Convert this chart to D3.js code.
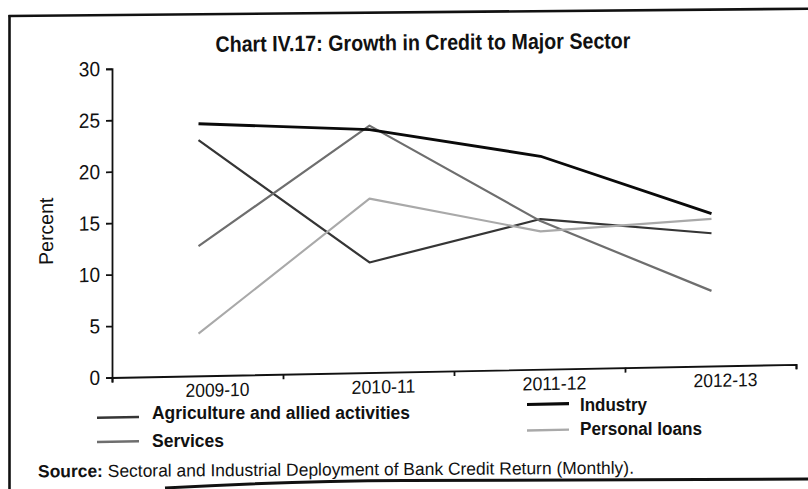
<!DOCTYPE html>
<html>
<head>
<meta charset="utf-8">
<script src="https://cdn.jsdelivr.net/npm/d3@7"></script>
<style>
  html, body { margin: 0; padding: 0; background: #fff; }
  svg { display: block; }
  text { font-family: "Liberation Sans", Arial, Helvetica, sans-serif; fill: #111; }
</style>
</head>
<body>
<svg id="chart" width="808" height="489"></svg>
<script>
// Growth in credit to major sectors, per cent
const categories = ["2009-10", "2010-11", "2011-12", "2012-13"];
const agriculture = [22.9, 10.7, 14.6, 12.9];
const industry = [24.5, 23.6, 20.7, 14.8];
const services = [12.6, 24.0, 14.4, 7.3];
const personalLoans = [4.1, 16.9, 13.4, 14.3];
const yTicks = [0, 5, 10, 15, 20, 25, 30];

const seriesNames = ["Agriculture and allied activities", "Services", "Industry", "Personal loans"];
const seriesValues = [agriculture, services, industry, personalLoans];

const colors = ["#353535", "#6e6e6e", "#0a0a0a", "#a9a9a9"];
const widths = [2.2, 2.2, 2.8, 2.1];

const svg = d3.select("#chart");
svg.append("rect").attr("width", 808).attr("height", 489).attr("fill", "#fff");

// Page frame
svg.append("line").attr("x1", 8.5).attr("y1", 16).attr("x2", 808).attr("y2", 8.7)
  .attr("stroke", "#111").attr("stroke-width", 2.6);
svg.append("line").attr("x1", 9.5).attr("y1", 15).attr("x2", 9.5).attr("y2", 489)
  .attr("stroke", "#111").attr("stroke-width", 2.6);
svg.append("path").attr("d", "M165,488 Q290,481 404,480.6 L808,479")
  .attr("fill", "none").attr("stroke", "#111").attr("stroke-width", 3);

// Title
svg.append("text")
  .attr("x", 423).attr("y", 50)
  .attr("text-anchor", "middle")
  .attr("transform", "rotate(-0.5 423 50)")
  .attr("font-size", 22).attr("font-weight", "bold")
  .attr("textLength", 415).attr("lengthAdjust", "spacingAndGlyphs")
  .text("Chart IV.17: Growth in Credit to Major Sector");

// Plot area (slightly sheared like the printed page)
const originX = 112, originY = 377.5;
const shear = Math.tan(1.1 * Math.PI / 180);
const pageY = (px, py) => py - shear * (px - originX);
const g = svg.append("g")
  .attr("transform", `translate(${originX},${originY}) skewY(-1.1) translate(${-originX},${-originY})`);

const x = d3.scaleBand().domain(categories).range([113, 797]).padding(0);
const y = d3.scaleLinear().domain([0, 30]).range([originY, 68.8]);

// Y axis
const yAxis = g.append("g")
  .attr("transform", `translate(${originX},0)`)
  .call(d3.axisLeft(y).tickValues(yTicks).tickSize(6).tickPadding(6).tickFormat(d3.format("d")));
yAxis.selectAll("path, line").attr("stroke", "#111").attr("stroke-width", 1.8);
yAxis.selectAll("text").attr("font-size", 20.5).attr("fill", "#111")
  .attr("font-family", "\"Liberation Sans\", Arial, sans-serif")
  .attr("textLength", d => String(d).length * 10.6)
  .attr("lengthAdjust", "spacingAndGlyphs");

// X axis: boundary ticks between categories
const xEdge = d3.scaleLinear().domain([0, categories.length]).range(x.range());
const xAxis = g.append("g")
  .call(d3.axisBottom(xEdge).ticks(categories.length).tickSize(5).tickFormat(""));
xAxis.attr("transform", `translate(${originX - x.range()[0]},${originY})`);
xAxis.selectAll("path, line").attr("stroke", "#111").attr("stroke-width", 1.8);

// X axis category labels
const xLabels = g.append("g")
  .attr("transform", `translate(0,${originY})`)
  .call(d3.axisBottom(x).tickSize(0).tickPadding(0));
xLabels.select(".domain").remove();
xLabels.selectAll("text")
  .attr("font-size", 19).attr("fill", "#111")
  .attr("font-family", "\"Liberation Sans\", Arial, sans-serif")
  .attr("dy", 0).attr("y", 21).attr("dx", (d, i) => i === 0 ? 19 : 14)
  .attr("textLength", 64).attr("lengthAdjust", "spacingAndGlyphs");

// Y axis title
g.append("text")
  .attr("transform", "translate(53,230) rotate(-90)")
  .attr("text-anchor", "middle")
  .attr("font-size", 20)
  .attr("textLength", 67).attr("lengthAdjust", "spacingAndGlyphs")
  .text("Percent");

// Series lines
const line = d3.line()
  .x((d, i) => x(categories[i]) + x.bandwidth() / 2)
  .y(d => y(d));

seriesValues.forEach((vals, k) => {
  g.append("path")
    .datum(vals)
    .attr("fill", "none")
    .attr("stroke", colors[k])
    .attr("stroke-width", widths[k])
    .attr("stroke-linejoin", "round")
    .attr("d", line);
});

// Legend: keys follow the shear, labels sit level at the sheared height of their middle
const legendItems = [
  { k: 0, lx: 97, ly: 417.4, tx: 152, ty: 422.3, len: 258 },
  { k: 1, lx: 97, ly: 441.8, tx: 152, ty: 448.1, len: 72 },
  { k: 2, lx: 527, ly: 412.4, tx: 580, ty: 420.7, len: 67 },
  { k: 3, lx: 527, ly: 438.4, tx: 580, ty: 444.7, len: 122 }
];
legendItems.forEach(it => {
  g.append("line")
    .attr("x1", it.lx).attr("x2", it.lx + 42)
    .attr("y1", it.ly).attr("y2", it.ly)
    .attr("stroke", colors[it.k]).attr("stroke-width", widths[it.k] + 0.3);
  svg.append("text")
    .attr("x", it.tx).attr("y", pageY(it.tx + it.len / 2, it.ty))
    .attr("font-size", 18).attr("font-weight", "bold")
    .attr("textLength", it.len).attr("lengthAdjust", "spacingAndGlyphs")
    .text(seriesNames[it.k]);
});

// Source note
const src = svg.append("text")
  .attr("x", 38).attr("y", 475.5)
  .attr("transform", "rotate(-0.35 336 475.5)")
  .attr("font-size", 17.5)
  .attr("textLength", 596).attr("lengthAdjust", "spacingAndGlyphs");
src.append("tspan").attr("font-weight", "bold").text("Source:");
src.append("tspan").text(" Sectoral and Industrial Deployment of Bank Credit Return (Monthly).");
</script>
</body>
</html>
